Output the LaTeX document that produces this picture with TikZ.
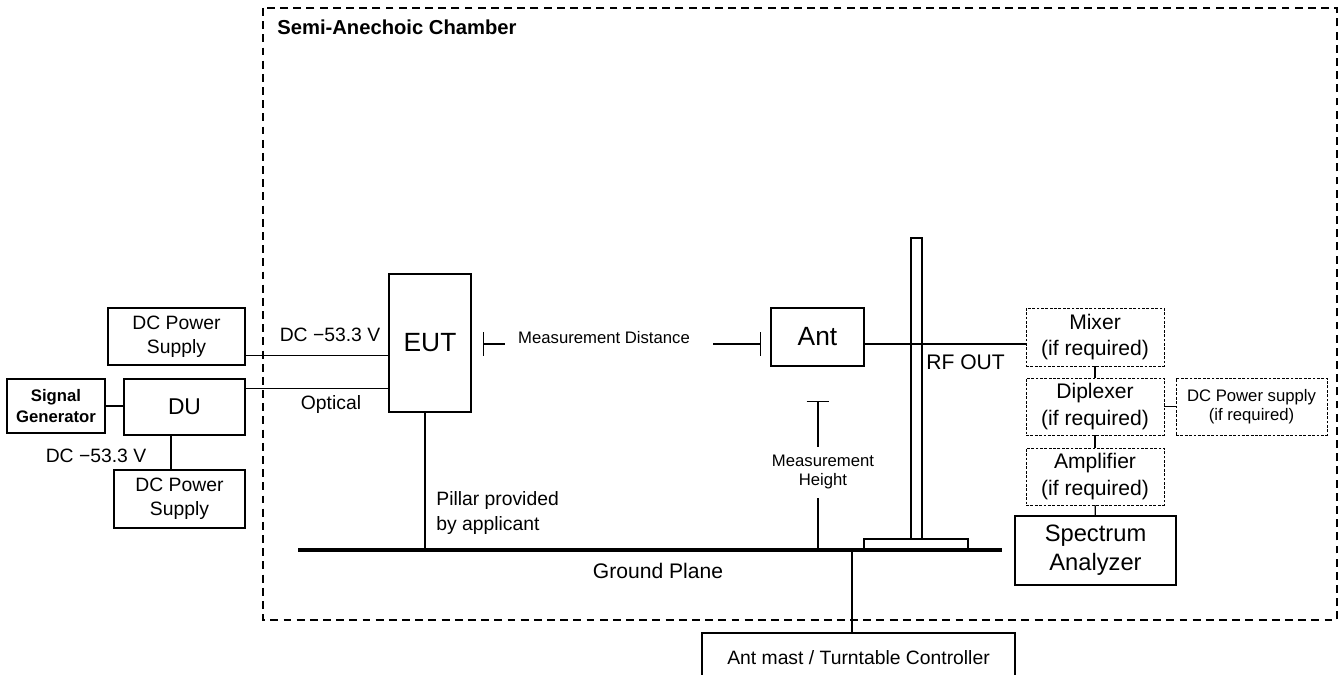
\documentclass[tikz,border=0pt]{standalone}
\usepackage{fontspec}
\setmainfont{Liberation Sans}
\usetikzlibrary{arrows.meta}
\begin{document}
\begin{tikzpicture}[x=0.02cm,y=-0.02cm,
    box/.style={draw,line width=0.7pt,align=center,inner sep=0pt,font=\fontsize{11}{13.5}\selectfont},
    optbox/.style={box,dash pattern=on 1.6pt off 0.9pt,line width=0.55pt,font=\fontsize{12}{15}\selectfont},
    wire/.style={line width=0.7pt},
    lbl/.style={inner sep=0pt,font=\fontsize{11}{13.5}\selectfont}]
    \useasboundingbox (0,0) rectangle (1344,675);
    %chamber
    \draw[line width=0.6pt,dash pattern=on 4.5pt off 3pt] (263,8) rectangle (1337,620);
    \node[lbl,anchor=west,font=\fontsize{11.5}{14}\selectfont\bfseries] (title) at (277,27) {Semi-Anechoic Chamber};
    %outside units
    \node[box,minimum width=2.74cm,minimum height=1.14cm] (dcA) at (176.5,336.5) {DC Power\\Supply};
    \node[box,minimum width=1.96cm,minimum height=1.08cm,font=\fontsize{9.5}{12}\selectfont\bfseries] (siggen) at (56,406) {Signal\\Generator};
    \node[box,minimum width=2.42cm,minimum height=1.12cm,font=\fontsize{13}{15}\selectfont] (du) at (184.5,407) {DU};
    \node[box,minimum width=2.62cm,minimum height=1.16cm] (dcB) at (179.5,499) {DC Power\\Supply};
    %inside units
    \node[box,minimum width=1.64cm,minimum height=2.76cm,font=\fontsize{15}{18}\selectfont] (eut) at (430,343) {EUT};
    \node[box,minimum width=1.86cm,minimum height=1.16cm,font=\fontsize{15}{18}\selectfont] (ant) at (817.5,337) {Ant};
    \node[optbox,minimum width=2.76cm,minimum height=1.16cm] (mixer) at (1095,337) {Mixer\\(if required)};
    \node[optbox,minimum width=2.76cm,minimum height=1.14cm] (diplexer) at (1095,406.5) {Diplexer\\(if required)};
    \node[optbox,minimum width=2.76cm,minimum height=1.14cm] (amp) at (1095,476.5) {Amplifier\\(if required)};
    \node[optbox,minimum width=3.02cm,minimum height=1.14cm,font=\fontsize{9.5}{11}\selectfont] (dcreq) at (1251.5,406.5) {DC Power supply\\(if required)};
    \node[box,minimum width=3.22cm,minimum height=1.38cm,font=\fontsize{13.5}{16.5}\selectfont] (sa) at (1095.5,550.5) {Spectrum\\Analyzer};
    \node[box,minimum width=6.26cm,minimum height=1cm] (ctrl) at (858.5,658) {Ant mast / Turntable Controller};
    %ground plane and mast
    \coordinate (gpL) at (298,550);
    \coordinate (gpR) at (1002,550);
    \draw[line width=2.2pt] (gpL) -- (gpR);
    \draw[wire,fill=white] (864,539) rectangle (968,549);
    \draw[wire,fill=white] (911,238) rectangle (922,539);
    %wires
    \draw[wire] (dcA.south east) ++(0,-10) coordinate (a) -- (a -| eut.west);
    \draw[wire] (du.north east) ++(0,10) coordinate (b) -- (b -| eut.west);
    \draw[wire] (siggen.east) -- (siggen.east -| du.west);
    \draw[wire] ([xshift=-0.27cm]du.south) -- ([xshift=-0.27cm]du.south |- dcB.north);
    \draw[wire] ([xshift=-0.1cm]eut.south) -- ([xshift=-0.1cm]eut.south |- gpL);
    \draw[wire] ([yshift=-0.14cm]ant.east) -- ([yshift=-0.14cm]ant.east -| mixer.west);
    \draw[wire] (mixer) -- (diplexer);
    \draw[wire] (diplexer) -- (amp);
    \draw[wire] (amp) -- (sa);
    \draw[wire] (diplexer) -- (dcreq);
    \draw[wire] ([xshift=-0.13cm]ctrl.north) -- ([xshift=-0.13cm]ctrl.north |- gpL);
    %labels
    \node[lbl] (vA) at (330,335) {DC −53.3 V};
    \node[lbl] (vB) at (96,456) {DC −53.3 V};
    \node[lbl] (optical) at (331,405) {Optical};
    \node[lbl,align=left,anchor=west,font=\fontsize{11}{14}\selectfont] (pillar) at (436,513) {Pillar provided\\by applicant};
    \node[lbl,anchor=west,font=\fontsize{12}{15}\selectfont] (rfout) at (926,362) {RF OUT};
    \node[lbl,font=\fontsize{12}{14}\selectfont] (gplabel) at (658,571) {Ground Plane};
    %measurement distance
    \node[lbl,font=\fontsize{9.5}{11}\selectfont] (mdist) at (604,338) {Measurement\ Distance};
    \coordinate (mdL) at (483,344);
    \coordinate (mdR) at (761,344);
    \draw[wire,{Bar[width=13.6pt]}-] (mdL) -- (505,344);
    \draw[wire,-{Bar[width=13.6pt]}] (713,344) -- (mdR);
    %measurement height
    \node[lbl,font=\fontsize{9.5}{11}\selectfont,align=center] (mheight) at (823,472) {Measurement\\Height};
    \coordinate (mhT) at (818,401);
    \coordinate (mhB) at (818,550);
    \draw[wire,{Bar[width=13pt]}-] (mhT) -- (818,447);
    \draw[wire] (818,498) -- (mhB);
\end{tikzpicture}
\end{document}
